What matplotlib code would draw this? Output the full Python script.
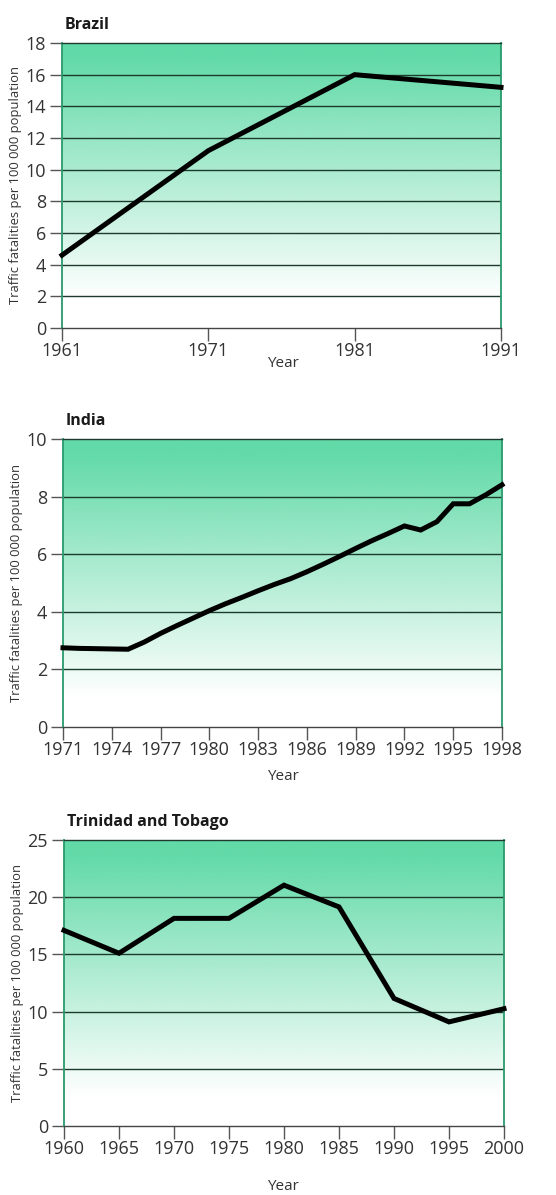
"""Traffic fatalities per 100 000 population: Brazil, India, Trinidad and Tobago."""

import matplotlib
matplotlib.use("Agg")
import matplotlib.pyplot as plt
import numpy as np
from matplotlib.colors import to_rgb

plt.rcParams["font.family"] = ["Open Sans", "DejaVu Sans"]

# --- data ---
brazil_years = [1961, 1971, 1981, 1991]
brazil_rate = [4.6, 11.2, 16.0, 15.2]
brazil_xticks = [1961, 1971, 1981, 1991]
brazil_yticks = [0, 2, 4, 6, 8, 10, 12, 14, 16, 18]

india_years = list(range(1971, 1999))
india_rate = [2.75, 2.73, 2.72, 2.71, 2.70, 2.95, 3.25, 3.52, 3.78, 4.04,
              4.28, 4.50, 4.73, 4.95, 5.15, 5.39, 5.65, 5.92, 6.20, 6.47,
              6.72, 6.98, 6.84, 7.13, 7.75, 7.75, 8.06, 8.41]
india_xticks = [1971, 1974, 1977, 1980, 1983, 1986, 1989, 1992, 1995, 1998]
india_yticks = [0, 2, 4, 6, 8, 10]

tt_years = [1960, 1965, 1970, 1975, 1980, 1985, 1990, 1995, 2000]
tt_rate = [17.1, 15.1, 18.15, 18.15, 21.05, 19.15, 11.15, 9.1, 10.25]
tt_xticks = [1960, 1965, 1970, 1975, 1980, 1985, 1990, 1995, 2000]
tt_yticks = [0, 5, 10, 15, 20, 25]

W, H = 556, 1195
GREEN = "#62daa8"
SPINE = "#2a9a6c"
GRID = "#1d3b2d"
TEXT = "#333333"


def fx(px):
    return px / W


def fy(py):
    return 1 - py / H


def gradient_bg(ax):
    n = 256
    t = np.linspace(0, 1, n)[:, None]        # 0 at bottom, 1 at top
    alpha = np.clip((t - 0.1) / 0.85, 0, 1)
    img = np.ones((n, 2, 4))
    img[..., :3] = to_rgb(GREEN)
    img[..., 3] = np.repeat(alpha, 2, axis=1)
    ax.imshow(img, extent=[0, 1, 0, 1], transform=ax.transAxes,
              origin="lower", aspect="auto", zorder=0, interpolation="bilinear")


def panel(fig, box, title, years, rate, xticks, yticks, title_y, xlab_y,
          ylab_x):
    left, top, right, bottom = box
    ax = fig.add_axes([fx(left), fy(bottom), fx(right - left),
                       (bottom - top) / H])
    gradient_bg(ax)
    ax.set_xlim(xticks[0], xticks[-1])
    ax.set_ylim(yticks[0], yticks[-1])
    for y in yticks[1:-1]:
        ax.axhline(y, color=GRID, lw=1.0, zorder=1)
    ax.plot(years, rate, color="black", lw=3.6, zorder=3,
            solid_joinstyle="miter", clip_on=False)
    ax.set_xticks(xticks)
    ax.set_yticks(yticks)
    ax.tick_params(axis="both", direction="out", length=9, width=1.0,
                   color="#555555", labelcolor=TEXT, labelsize=13, pad=1.0)
    ax.tick_params(axis="y", pad=2.5)
    for s in ("left", "right", "top"):
        ax.spines[s].set_color(SPINE)
        ax.spines[s].set_linewidth(1.3)
    ax.spines["top"].set_color(GRID)
    ax.spines["top"].set_linewidth(1.0)
    ax.spines["bottom"].set_color("#444444")
    ax.spines["bottom"].set_linewidth(1.0)

    fig.text(fx(left + 3), fy(title_y), title, fontsize=11.5,
             fontweight="bold", color="#1a1a1a", va="baseline", ha="left")
    fig.text(fx(283), fy(xlab_y), "Year", fontsize=11, color=TEXT,
             ha="center", va="center")
    fig.text(fx(ylab_x), (fy(top) + fy(bottom)) / 2,
             "Traffic fatalities per 100 000 population", fontsize=9.4,
             color=TEXT, rotation=90, ha="center", va="center")
    return ax


fig = plt.figure(figsize=(W / 100, H / 100), dpi=100)
fig.patch.set_facecolor("white")

panel(fig, (62, 43, 501, 328), "Brazil", brazil_years, brazil_rate,
      brazil_xticks, brazil_yticks, 29, 364, 16)
panel(fig, (63, 439, 502, 727), "India", india_years, india_rate,
      india_xticks, india_yticks, 425, 776, 17)
panel(fig, (64, 840, 504, 1126), "Trinidad and Tobago", tt_years, tt_rate,
      tt_xticks, tt_yticks, 826, 1186, 18)

fig.savefig("out.png", dpi=100)
